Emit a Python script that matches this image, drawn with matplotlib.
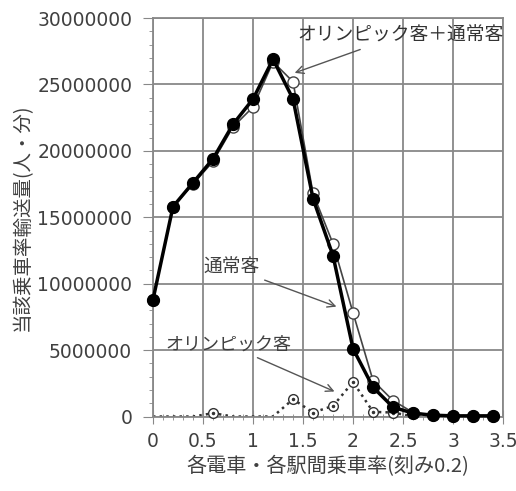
import numpy as np
import matplotlib.pyplot as plt
from matplotlib.ticker import MultipleLocator

plt.rcParams['font.family'] = ['Noto Sans CJK JP', 'DejaVu Sans']

# 乗車率 (刻み0.2)
rate = [0, 0.2, 0.4, 0.6, 0.8, 1.0, 1.2, 1.4, 1.6, 1.8, 2.0, 2.2, 2.4, 2.6, 2.8, 3.0, 3.2, 3.4]
# オリンピック客＋通常客
total = [8.8e6, 15.8e6, 17.6e6, 19.4e6, 22.0e6, 23.9e6, 26.9e6, 23.9e6, 16.4e6, 12.1e6,
         5.1e6, 2.2e6, 0.7e6, 0.25e6, 0.1e6, 0.05e6, 0.05e6, 0.05e6]
# 通常客
normal = [8.8e6, 15.8e6, 17.5e6, 19.2e6, 21.8e6, 23.3e6, 26.7e6, 25.2e6, 16.8e6, 13.0e6,
          7.8e6, 2.7e6, 1.2e6, 0.3e6, 0.1e6, 0.05e6, 0.05e6, 0.05e6]
# オリンピック客
olympic = [0, 0, 0, 0.25e6, 0, 0, 0, 1.3e6, 0.3e6, 0.8e6,
           2.6e6, 0.35e6, 0.3e6, 0, 0, 0, 0, 0]

fig = plt.figure(figsize=(5.16, 4.91), dpi=100)
ax = fig.add_axes([0.2965, 0.1517, 0.6785, 0.8116])

gray = '#555555'
olymp_marks = [i for i, v in enumerate(olympic) if v > 0]
ax.plot(rate, olympic, color='#333333', lw=1.8, ls=':', zorder=2)
ax.plot(rate, olympic, ls='none', marker='o', ms=7, mfc='white', mec='#333333',
        mew=1, markevery=olymp_marks, clip_on=False, zorder=3)
ax.plot(rate, olympic, ls='none', marker='.', ms=3, color='#333333',
        markevery=olymp_marks, clip_on=False, zorder=3)
ax.plot(rate, normal, color='#444444', lw=1.2, marker='o', ms=8,
        mfc='white', mec='#444444', mew=1, clip_on=False, zorder=4)
ax.plot(rate, total, color='black', lw=2.5, marker='o', ms=8.5,
        mfc='black', mec='black', clip_on=False, zorder=5)

ax.set_xlim(0, 3.5)
ax.set_ylim(0, 30000000)
ax.xaxis.set_major_locator(MultipleLocator(0.5))
ax.xaxis.set_minor_locator(MultipleLocator(0.1))
ax.yaxis.set_major_locator(MultipleLocator(5000000))
ax.yaxis.set_minor_locator(MultipleLocator(1000000))
ax.xaxis.set_major_formatter(plt.FuncFormatter(lambda v, p: f'{v:g}'))
ax.yaxis.set_major_formatter(plt.FuncFormatter(lambda v, p: f'{int(v)}'))
for lbl in ax.get_xticklabels() + ax.get_yticklabels():
    lbl.set_family('DejaVu Sans')

ax.grid(True, which='major', color='#888888', lw=1.3)
ax.set_axisbelow(True)
for s in ax.spines.values():
    s.set_color('#888888')
    s.set_linewidth(1.3)
ax.tick_params(axis='both', which='major', labelsize=13.5, colors='#888888', labelcolor='#404040')
ax.tick_params(axis='y', which='major', direction='out', length=7, pad=8)
ax.tick_params(axis='y', which='minor', direction='out', length=3, colors='#888888')
ax.tick_params(axis='x', which='major', direction='inout', length=10, pad=6)
ax.tick_params(axis='x', which='minor', direction='inout', length=5, colors='#888888')

ax.set_xlabel('各電車・各駅間乗車率(刻み0.2)', fontsize=14.5, color='#404040', labelpad=4)
ax.set_ylabel('当該乗車率輸送量(人・分)', fontsize=14, color='#404040', labelpad=3)

arrow = dict(arrowstyle='->', color=gray, lw=1)
ax.annotate('オリンピック客＋通常客', xy=(1.39, 25.8e6), xytext=(2.47, 28.7e6),
            fontsize=13.5, color='#333333', ha='center', va='center', arrowprops=arrow)
ax.annotate('通常客', xy=(1.86, 8.2e6), xytext=(0.5, 11.2e6),
            fontsize=13.5, color='#404040', ha='left', va='center', arrowprops=arrow)
ax.annotate('オリンピック客', xy=(1.84, 1.8e6), xytext=(0.12, 5.4e6),
            fontsize=13, color='#404040', ha='left', va='center', arrowprops=arrow)

fig.savefig('out.png', dpi=100)
